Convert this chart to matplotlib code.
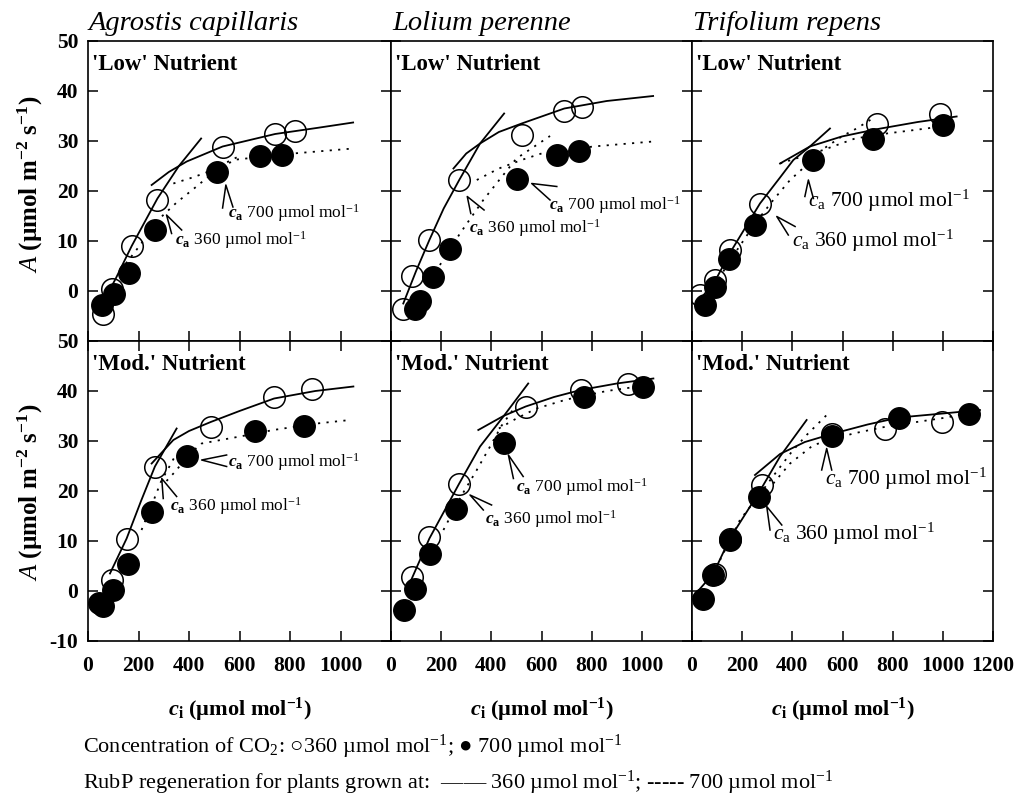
import numpy as np
import matplotlib
matplotlib.use("Agg")
import matplotlib.pyplot as plt

plt.rcParams['font.family'] = ['Liberation Serif', 'DejaVu Serif']
plt.rcParams['mathtext.fontset'] = 'custom'
plt.rcParams['mathtext.rm'] = 'Liberation Serif'
plt.rcParams['mathtext.it'] = 'Liberation Serif:italic'
plt.rcParams['mathtext.bf'] = 'Liberation Serif:bold'
plt.rcParams['mathtext.bfit'] = 'Liberation Serif:italic:bold'
plt.rcParams['mathtext.default'] = 'regular'

# ---- data: (ci, A) pairs ----
# Agrostis capillaris, 'Low'
ag_low_open = [(58, -4.5), (94, 0.5), (173, 9), (275, 18.3), (533, 28.9), (741, 31.5), (820, 32)]
ag_low_fill = [(54, -2.8), (104, -0.6), (164, 3.7), (265, 12.3), (510, 23.9), (681, 27), (767, 27.2)]
ag_low_rub360 = [(47, -3.5), (110, 2.5), (173, 9), (275, 18.5), (360, 25), (448, 30.5)]
ag_low_rubp360 = [(252, 21.2), (320, 23.8), (391, 25.9), (533, 28.9), (741, 31.4), (905, 32.6), (1050, 33.7)]
ag_low_rub700 = [(150, 5.5), (193, 8.3), (292, 14.9), (351, 17.7), (420, 20.5), (480, 23), (540, 25.5), (600, 27)]
ag_low_rubp700 = [(338, 21.5), (420, 22.8), (510, 24.5), (589, 26.3), (812, 27.5), (1050, 28.5)]

# Lolium perenne, 'Low'
lo_low_open = [(47, -3.5), (85, 3), (153, 10.2), (272, 22.2), (521, 31.2), (691, 36), (763, 36.9)]
lo_low_fill = [(95, -3.5), (115, -2), (169, 2.9), (235, 8.5), (501, 22.5), (662, 27.2), (751, 28)]
lo_low_rub360 = [(49, -2.5), (100, 4), (153, 10.2), (210, 16.5), (272, 22.2), (355, 29.5), (451, 35.5)]
lo_low_rubp360 = [(249, 24.5), (300, 27.5), (355, 29.5), (430, 31.8), (521, 33.5), (691, 36.5), (860, 38), (1045, 39)]
lo_low_rub700 = [(195, 5.2), (275, 11.5), (368, 18.2), (500, 26.5), (634, 31)]
lo_low_rubp700 = [(342, 22.2), (430, 24.5), (520, 26.2), (600, 27.5), (806, 28.9), (1045, 29.9)]

# Trifolium repens, 'Low'
tr_low_open = [(32, -0.8), (92, 2.2), (151, 8.2), (271, 17.5), (736, 33.5), (989, 35.5)]
tr_low_fill = [(52, -2.8), (92, 0.9), (149, 6.5), (251, 13.2), (484, 26.3), (723, 30.5), (1002, 33.2)]
tr_low_rub360 = [(19, -2.5), (92, 2), (150, 7.5), (271, 17.5), (351, 22.7), (404, 26.2), (470, 28.9), (550, 32.5)]
tr_low_rubp360 = [(351, 25.5), (470, 28.9), (597, 30.9), (730, 32.3), (900, 33.8), (1055, 34.9)]
tr_low_rub700 = [(90, 1), (150, 6), (251, 13.5), (324, 18.2), (391, 22.2), (457, 25.2), (523, 28.4), (600, 31), (656, 32.5), (720, 34.5)]
tr_low_rubp700 = [(351, 25.5), (440, 26.9), (523, 28.2), (650, 30.5), (776, 31.5), (935, 32.5), (1000, 33)]

# Agrostis capillaris, 'Mod.'
ag_mod_open = [(94, 2.2), (153, 10.5), (265, 24.9), (486, 32.9), (737, 38.9), (888, 40.5)]
ag_mod_fill = [(45, -2.4), (60, -2.9), (100, 0.2), (157, 5.5), (252, 15.9), (393, 27), (661, 32.1), (856, 33)]
ag_mod_rub360 = [(87, 3.5), (153, 10.5), (210, 18), (265, 24.9), (351, 32.5)]
ag_mod_rubp360 = [(252, 25.5), (338, 30.2), (400, 32), (486, 33.8), (600, 36), (737, 38.5), (900, 40), (1051, 40.9)]
ag_mod_rub700 = [(212, 12.2), (259, 18), (290, 22), (318, 24.5), (345, 27)]
ag_mod_rubp700 = [(311, 22), (351, 24.2), (393, 27), (450, 29.5), (602, 30.9), (734, 32.2), (906, 33.5), (1038, 34.2)]

# Lolium perenne, 'Mod.'
lo_mod_open = [(85, 2.9), (153, 10.9), (272, 21.5), (537, 36.9), (756, 40.2), (946, 41.5)]
lo_mod_fill = [(52, -3.7), (96, 0.5), (155, 7.4), (259, 16.5), (450, 29.7), (769, 38.9), (1006, 40.9)]
lo_mod_rub360 = [(63, 0.2), (153, 10.5), (272, 21.5), (355, 28.9), (448, 34.9), (547, 41.5)]
lo_mod_rubp360 = [(348, 32.2), (448, 35), (537, 36.9), (650, 38.8), (756, 40.2), (900, 41.5), (1046, 42.5)]
lo_mod_rub700 = [(209, 12.2), (280, 19), (342, 24.2), (395, 28.9), (440, 33), (490, 36.5)]
lo_mod_rubp700 = [(430, 32.5), (500, 34.5), (580, 36.5), (700, 38.3), (860, 40), (1000, 41)]

# Trifolium repens, 'Mod.'
tr_mod_open = [(90, 3.5), (151, 10.5), (278, 21.2), (560, 31.5), (769, 32.5), (998, 33.9)]
tr_mod_fill = [(45, -1.5), (85, 3.2), (151, 10.2), (267, 18.9), (557, 31), (826, 34.7), (1105, 35.4)]
tr_mod_rub360 = [(5, -1.1), (85, 3.5), (151, 10.5), (267, 19.7), (351, 26.9), (457, 34.2)]
tr_mod_rubp360 = [(251, 23.2), (351, 27.4), (450, 29.8), (557, 31.4), (700, 33.3), (826, 34.7), (1000, 35.5), (1148, 36.2)]
tr_mod_rub700 = [(112, 6.2), (191, 14.2), (280, 20), (324, 23), (400, 28), (457, 31.2), (537, 35.2)]
tr_mod_rubp700 = [(324, 21.5), (391, 25.5), (484, 29.2), (643, 31.5), (776, 32.9), (1015, 34.7), (1148, 36)]

# annotation pointers: label, tip, end1, end2, text position
ag_low_notes = [("700", (546, 21.2), (533, 16.6), (574, 16.8), (554, 15.6)),
                ("360", (311, 15.2), (331, 11.5), (371, 12.2), (345, 10.2))]
lo_low_notes = [("360", (304, 18.9), (318, 15.5), (371, 16.2), (312, 12.5)),
                ("700", (561, 21.5), (661, 20.9), (634, 18.2), (630, 17.2))]
tr_low_notes = [("700", (464, 22.2), (450, 18.9), (484, 18.5), (463, 18.0)),
                ("360", (338, 14.9), (411, 12.9), (384, 11.2), (399, 10.0))]
ag_mod_notes = [("700", (450, 26.2), (549, 27.2), (549, 24.9), (554, 25.8)),
                ("360", (292, 22.5), (298, 18.5), (351, 18.9), (325, 17.0))]
lo_mod_notes = [("700", (468, 27.2), (488, 22.5), (527, 22.9), (498, 20.8)),
                ("360", (315, 19.2), (368, 16.2), (401, 17.2), (375, 14.4))]
tr_mod_notes = [("700", (537, 28.5), (517, 24.2), (557, 24.2), (530, 22.4)),
                ("360", (298, 16.9), (311, 12.2), (358, 13.2), (323, 11.4))]

species = ["Agrostis capillaris", "Lolium perenne", "Trifolium repens"]
nutrients = ["'Low' Nutrient", "'Mod.' Nutrient"]
xticks = [0, 200, 400, 600, 800, 1000, 1200]
yticks = [-10, 0, 10, 20, 30, 40, 50]

panels = [
    [(ag_low_open, ag_low_fill, ag_low_rub360, ag_low_rubp360, ag_low_rub700, ag_low_rubp700, ag_low_notes),
     (lo_low_open, lo_low_fill, lo_low_rub360, lo_low_rubp360, lo_low_rub700, lo_low_rubp700, lo_low_notes),
     (tr_low_open, tr_low_fill, tr_low_rub360, tr_low_rubp360, tr_low_rub700, tr_low_rubp700, tr_low_notes)],
    [(ag_mod_open, ag_mod_fill, ag_mod_rub360, ag_mod_rubp360, ag_mod_rub700, ag_mod_rubp700, ag_mod_notes),
     (lo_mod_open, lo_mod_fill, lo_mod_rub360, lo_mod_rubp360, lo_mod_rub700, lo_mod_rubp700, lo_mod_notes),
     (tr_mod_open, tr_mod_fill, tr_mod_rub360, tr_mod_rubp360, tr_mod_rub700, tr_mod_rubp700, tr_mod_notes)],
]

W, H = 1029, 800
fig = plt.figure(figsize=(W / 100, H / 100), dpi=100)
lefts = [88, 391, 692]
widths = [303, 301, 301]
tops = [41, 341]
ph = 300

dot = (0, (1.2, 3.5))

for r in range(2):
    for c in range(3):
        op, fi, r360, p360, r700, p700, notes = panels[r][c]
        ax = fig.add_axes([lefts[c] / W, 1 - (tops[r] + ph) / H, widths[c] / W, ph / H])
        for seg, ls in [(r360, '-'), (p360, '-'), (r700, dot), (p700, dot)]:
            a = np.array(seg)
            ax.plot(a[:, 0], a[:, 1], color='black', lw=1.3, ls=ls, zorder=2)
        a = np.array(op)
        ax.plot(a[:, 0], a[:, 1], 'o', ms=15.5, mfc='none', mec='black', mew=1.1, zorder=3)
        a = np.array(fi)
        ax.plot(a[:, 0], a[:, 1], 'o', ms=15.5, mfc='black', mec='black', zorder=4)

        fs = 15.5 if c == 2 else 12.5
        for lab, tip, e1, e2, tp in notes:
            ax.plot([e1[0], tip[0], e2[0]], [e1[1], tip[1], e2[1]], color='black', lw=1.1, zorder=5)
            ca = r"$\mathit{c}_{\rm a}$" if c == 2 else r"$\mathbfit{c}_{\mathbf{a}}$"
            ax.text(tp[0], tp[1], ca + " " + lab + r" µmol mol$^{-1}$", fontsize=fs,
                    ha='left', va='center', zorder=6)

        ax.set_xlim(0, 1200)
        ax.set_ylim(-10, 50)
        ax.set_xticks(xticks)
        ax.set_yticks(yticks)
        ax.tick_params(direction='in', length=7, width=1.1, labelsize=15.5,
                       left=True, right=True, top=(r == 1), bottom=True, pad=7)
        if c == 0:
            ylabs = [str(v) for v in yticks]
            if r == 0:
                ylabs[0] = ''
            ax.set_yticklabels(ylabs, fontweight='bold')
        else:
            ax.set_yticklabels([])
        if r == 1:
            xl = [str(v) for v in xticks]
            if c < 2:
                xl[-1] = ''
            ax.set_xticklabels(xl, fontweight='bold')
            ax.tick_params(axis='x', pad=11)
        else:
            ax.set_xticklabels([])
        for s in ax.spines.values():
            s.set_linewidth(1.2)
        ax.text(0.013, 0.92, nutrients[r], transform=ax.transAxes, fontsize=16.5,
                fontweight='bold', ha='left', va='center')

# species titles
for c in range(3):
    fig.text((lefts[c] + 1) / W, 1 - 30 / H, species[c], fontsize=20.5, style='italic',
             ha='left', va='baseline')
    fig.text((lefts[c] + widths[c] / 2) / W, 1 - 710 / H,
             r"$\mathbfit{c}_{\mathbf{i}}$ (µmol mol$^{-1}$)", fontsize=16, fontweight='bold',
             ha='center', va='center')

# y axis labels
for yc in [184, 492]:
    fig.text(30 / W, 1 - yc / H, r"$\mathit{A}$ (µmol m$^{-2}$ s$^{-1}$)", fontsize=18,
             fontweight='bold', rotation=90, ha='center', va='center')

fig.text(83 / W, 1 - 747 / H,
         "Concentration of CO$_2$: \u25CB360 µmol mol$^{-1}$; \u25CF 700 µmol mol$^{-1}$",
         fontsize=16, ha='left', va='center')
fig.text(83 / W, 1 - 783 / H,
         "RubP regeneration for plants grown at:  \u2014\u2014 360 µmol mol$^{-1}$; ----- 700 µmol mol$^{-1}$",
         fontsize=16, ha='left', va='center')

fig.savefig("out.png", dpi=100)
